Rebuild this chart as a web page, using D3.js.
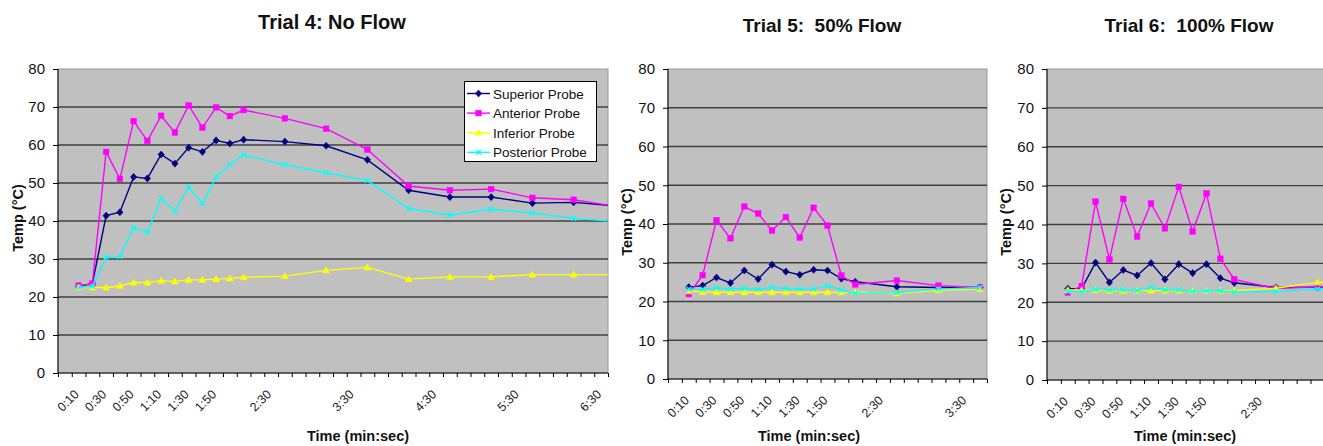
<!DOCTYPE html>
<html><head><meta charset="utf-8">
<script src="https://cdn.jsdelivr.net/npm/d3@7"></script>
<style>
html,body{margin:0;padding:0;background:#fff;}
svg{display:block;font-family:"Liberation Sans",Arial,sans-serif;}
</style></head>
<body><svg id="chart" width="1323" height="446"></svg>
<script>
// ---------- DATA ----------
const seriesNames = ["Superior Probe","Anterior Probe","Inferior Probe","Posterior Probe"];

const times4 = ["0:10","0:20","0:30","0:40","0:50","1:00","1:10","1:20","1:30","1:40","1:50","2:00","2:10","2:40","3:10","3:40","4:10","4:40","5:10","5:40","6:10","6:40"];
const superior4  = [22.8,23.5,41.4,42.3,51.6,51.2,57.5,55.1,59.3,58.2,61.2,60.4,61.4,60.9,59.8,56.1,48.1,46.3,46.3,44.7,44.9,44.0];
const anterior4  = [23.0,23.5,58.2,51.1,66.3,61.1,67.7,63.3,70.4,64.6,69.9,67.6,69.2,67.0,64.3,58.8,49.2,48.1,48.4,46.1,45.6,43.9];
const inferior4  = [22.5,22.5,22.5,22.9,23.8,23.8,24.3,24.1,24.5,24.5,24.7,24.9,25.2,25.5,27.0,27.8,24.7,25.3,25.3,25.9,25.9,25.9];
const posterior4 = [22.5,22.8,30.5,30.7,38.2,37.1,46.0,42.6,48.9,44.6,51.6,54.8,57.4,54.8,52.7,50.7,43.3,41.6,43.1,42.1,40.7,39.9];
const ticks4 = ["0:10","0:30","0:50","1:10","1:30","1:50","2:30","3:30","4:30","5:30","6:30"];

const times5 = ["0:10","0:20","0:30","0:40","0:50","1:00","1:10","1:20","1:30","1:40","1:50","2:00","2:10","2:40","3:10","3:40"];
const superior5  = [23.7,24.1,26.2,24.8,28.0,25.8,29.5,27.7,26.9,28.2,28.0,25.9,25.1,23.8,23.6,23.6];
const anterior5  = [21.9,26.8,41.0,36.3,44.5,42.7,38.3,41.8,36.5,44.2,39.6,26.7,24.4,25.4,24.1,23.6];
const inferior5  = [22.7,22.5,22.4,22.4,22.4,22.4,22.4,22.4,22.4,22.4,22.4,22.4,22.4,22.1,22.9,23.2];
const posterior5 = [23.2,23.2,23.5,23.2,23.4,23.1,23.6,23.3,23.2,23.2,24.1,22.9,22.1,22.3,23.2,23.6];
const ticks5 = ["0:10","0:30","0:50","1:10","1:30","1:50","2:30","3:30"];

const times6 = ["0:10","0:20","0:30","0:40","0:50","1:00","1:10","1:20","1:30","1:40","1:50","2:00","2:10","2:40","3:10","3:40"];
const superior6  = [23.5,23.5,30.2,25.1,28.3,26.9,30.1,25.9,29.8,27.5,29.8,26.2,25.0,23.8,23.9,23.9];
const anterior6  = [22.5,24.2,45.9,31.0,46.6,36.9,45.4,39.0,49.7,38.2,48.0,31.2,25.9,23.5,24.0,24.0];
const inferior6  = [23.2,23.1,23.1,23.0,23.0,23.0,23.0,23.0,23.0,23.0,23.0,23.0,23.0,23.6,25.1,25.3];
const posterior6 = [22.8,22.7,23.3,23.2,23.2,23.0,23.8,23.2,23.2,22.8,23.0,23.0,22.6,22.8,23.4,23.5];
const ticks6 = ["0:10","0:30","0:50","1:10","1:30","1:50","2:30"];

const yTicks = [0,10,20,30,40,50,60,70,80];

// ---------- STYLE / LAYOUT ----------
const colors = ["#000080","#FF00FF","#FFFF00","#00FFFF"];
const markers = ["diamond","square","triangle","x"];
const FONT = '"Liberation Sans", Arial, sans-serif';
const toSec = s => { const [m, ss] = s.split(":").map(Number); return m*60 + ss; };

const panels = [
  {title:"Trial 4: No Flow", titleX:332, titleY:29, titleSize:20,
   times:times4, series:[superior4,anterior4,inferior4,posterior4], ticks:ticks4,
   left:58, right:608, top:69, bottom:373, tStart:-5, tEnd:395,
   yTitleX:23, yTitleY:218, xTitleX:358, legend:true},
  {title:"Trial 5:  50% Flow", titleX:822, titleY:32, titleSize:19,
   times:times5, series:[superior5,anterior5,inferior5,posterior5], ticks:ticks5,
   left:668, right:987, top:69, bottom:379, tStart:-5, tEnd:225,
   yTitleX:632, yTitleY:222, xTitleX:809, legend:false},
  {title:"Trial 6:  100% Flow", titleX:1189, titleY:32, titleSize:19,
   times:times6, series:[superior6,anterior6,inferior6,posterior6], ticks:ticks6,
   left:1047, right:1366, top:69, bottom:380, tStart:-5, tEnd:225,
   yTitleX:1011, yTitleY:222, xTitleX:1185, legend:false}
];

const svg = d3.select("#chart");

function drawMarker(g, type, cx, cy, color) {
  if (type === "diamond") {
    g.append("path").attr("d", `M${cx},${cy-3.6}L${cx+3.2},${cy}L${cx},${cy+3.6}L${cx-3.2},${cy}Z`)
      .attr("fill", color).attr("stroke", color).attr("stroke-width", 0.5);
  } else if (type === "square") {
    g.append("rect").attr("x", cx-2.8).attr("y", cy-2.8).attr("width", 5.6).attr("height", 5.6)
      .attr("fill", color).attr("stroke", color).attr("stroke-width", 0.5);
  } else if (type === "triangle") {
    g.append("path").attr("d", `M${cx},${cy-3.4}L${cx+3.4},${cy+2.6}L${cx-3.4},${cy+2.6}Z`)
      .attr("fill", color).attr("stroke", color).attr("stroke-width", 0.5);
  } else {
    g.append("path").attr("d", `M${cx-2.4},${cy-2.4}L${cx+2.4},${cy+2.4}M${cx-2.4},${cy+2.4}L${cx+2.4},${cy-2.4}`)
      .attr("stroke", color).attr("stroke-width", 1.3);
  }
}

panels.forEach((p, pi) => {
  const x = d3.scaleLinear().domain([p.tStart, p.tEnd]).range([p.left, p.right]);
  const y = d3.scaleLinear().domain([0, 80]).range([p.bottom, p.top]);
  const g = svg.append("g");

  const clipId = "clip" + pi;
  svg.append("clipPath").attr("id", clipId).append("rect")
    .attr("x", p.left).attr("y", p.top).attr("width", p.right - p.left).attr("height", p.bottom - p.top);

  // plot background
  g.append("rect").attr("x", p.left).attr("y", p.top)
    .attr("width", p.right - p.left).attr("height", p.bottom - p.top)
    .attr("fill", "#c0c0c0").attr("stroke", "#9a9a9a").attr("stroke-width", 1);

  // gridlines
  g.append("g").selectAll("line").data(yTicks.filter(v => v > 0 && v < 80)).join("line")
    .attr("x1", p.left).attr("x2", p.right)
    .attr("y1", d => y(d)).attr("y2", d => y(d))
    .attr("stroke", "#404040").attr("stroke-width", 1.4);

  // y axis
  const ya = g.append("g").attr("transform", `translate(${p.left},0)`)
    .call(d3.axisLeft(y).tickValues(yTicks).tickSize(5).tickPadding(8));
  ya.select(".domain").remove();
  ya.selectAll(".tick line").attr("stroke", "#000");
  ya.selectAll(".tick text").attr("font-family", FONT).attr("font-size", 15).attr("fill", "#111");
  g.append("line").attr("x1", p.left).attr("x2", p.left).attr("y1", p.top).attr("y2", p.bottom)
    .attr("stroke", "#000").attr("stroke-width", 1);

  // x axis ticks (every 10 s category boundary)
  const xt = d3.range(p.tStart, p.tEnd + 0.1, 10);
  const xa = g.append("g").attr("transform", `translate(0,${p.bottom})`)
    .call(d3.axisBottom(x).tickValues(xt).tickSize(4).tickFormat(""));
  xa.select(".domain").remove();
  xa.selectAll(".tick line").attr("stroke", "#000");
  g.append("line").attr("x1", p.left).attr("x2", p.right).attr("y1", p.bottom).attr("y2", p.bottom)
    .attr("stroke", "#000").attr("stroke-width", 1);

  // x tick labels rotated
  g.append("g").selectAll("text").data(p.ticks).join("text")
    .attr("transform", d => `translate(${x(toSec(d)) + 1},${p.bottom + 22}) rotate(-45)`)
    .attr("text-anchor", "end").attr("font-family", FONT).attr("font-size", 12.5).attr("fill", "#222")
    .text(d => d);

  // series
  const sg = g.append("g").attr("clip-path", `url(#${clipId})`);
  p.series.forEach((vals, si) => {
    const pts = p.times.map((t, i) => [toSec(t), vals[i]]);
    sg.append("path").datum(pts)
      .attr("d", d3.line().x(d => x(d[0])).y(d => y(d[1])))
      .attr("fill", "none").attr("stroke", colors[si]).attr("stroke-width", 1.4);
    const mg = sg.append("g");
    pts.forEach(d => { if (d[0] <= p.tEnd) drawMarker(mg, markers[si], x(d[0]), y(d[1]), colors[si]); });
  });

  // titles
  g.append("text").attr("x", p.titleX).attr("y", p.titleY).attr("text-anchor", "middle")
    .attr("font-family", FONT).attr("font-weight", "bold").attr("font-size", p.titleSize)
    .style("white-space", "pre").attr("fill", "#111").text(p.title);
  g.append("text").attr("transform", `translate(${p.yTitleX},${p.yTitleY}) rotate(-90)`)
    .attr("text-anchor", "middle").attr("font-family", FONT).attr("font-weight", "bold")
    .attr("font-size", 14.5).attr("fill", "#111").text("Temp (°C)");
  g.append("text").attr("x", p.xTitleX).attr("y", 441).attr("text-anchor", "middle")
    .attr("font-family", FONT).attr("font-weight", "bold").attr("font-size", 14.5)
    .attr("fill", "#111").text("Time (min:sec)");

  // legend
  if (p.legend) {
    const lg = g.append("g");
    lg.append("rect").attr("x", 464.5).attr("y", 81.5).attr("width", 132).attr("height", 80)
      .attr("fill", "#fff").attr("stroke", "#000").attr("stroke-width", 1);
    seriesNames.forEach((name, si) => {
      const cy = 93.5 + si * 19.6;
      lg.append("line").attr("x1", 467).attr("x2", 490).attr("y1", cy).attr("y2", cy)
        .attr("stroke", colors[si]).attr("stroke-width", 1.4);
      drawMarker(lg, markers[si], 478.5, cy, colors[si]);
      lg.append("text").attr("x", 493).attr("y", cy + 5).attr("font-family", FONT)
        .attr("font-size", 13.5).attr("fill", "#111").text(name);
    });
  }
});
</script></body></html>
